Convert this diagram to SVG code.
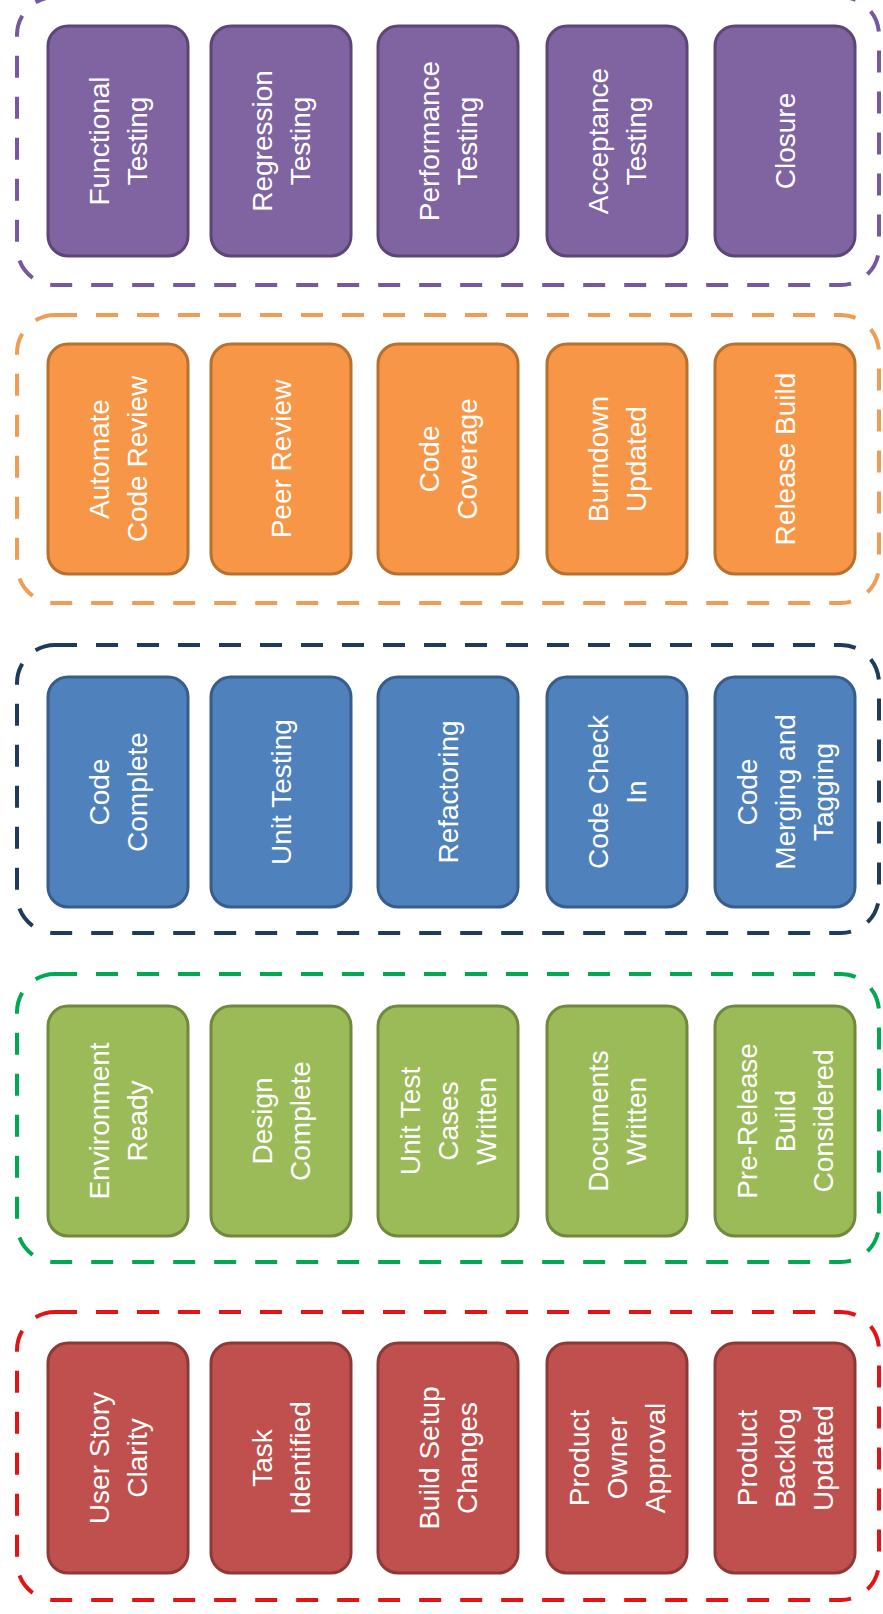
<svg xmlns="http://www.w3.org/2000/svg" width="883" height="1614" viewBox="0 0 883 1614">
<style>
.grp{fill:none;stroke-width:4;stroke-dasharray:22 19}
.box{stroke-width:3}
.lbl{font-family:"Liberation Sans",Arial,sans-serif;font-size:28px;fill:#ffffff;text-anchor:middle}
.p .box{fill:#8064A2;stroke:#5C4678}
.o .box{fill:#F79646;stroke:#B8702F}
.b .box{fill:#4F81BD;stroke:#385D8A}
.g .box{fill:#9BBB59;stroke:#71893F}
.r .box{fill:#C0504D;stroke:#8C3A38}
</style>
<rect width="883" height="1614" fill="#ffffff"/>
<g id="groups">
<rect id="grp-purple" class="grp" x="17" y="-3" width="862" height="288" rx="38" stroke="#7558A0"/>
<rect id="grp-orange" class="grp" x="17" y="315" width="862" height="288" rx="38" stroke="#F09C55"/>
<rect id="grp-blue" class="grp" x="17" y="645" width="862" height="288" rx="38" stroke="#1F3B5C"/>
<rect id="grp-green" class="grp" x="17" y="974" width="862" height="288" rx="38" stroke="#00A84F"/>
<rect id="grp-red" class="grp" x="17" y="1312" width="862" height="288" rx="38" stroke="#E01414"/>
</g>
<g id="connectors"></g>

<g class="p">
<g id="functional-testing"><rect class="box" x="48" y="26" width="140" height="230" rx="20"/><text class="lbl" transform="translate(118,141) rotate(-90)"><tspan x="0" y="-9">Functional</tspan><tspan x="0" y="29">Testing</tspan></text></g>
<g id="regression-testing"><rect class="box" x="211" y="26" width="140" height="230" rx="20"/><text class="lbl" transform="translate(281,141) rotate(-90)"><tspan x="0" y="-9">Regression</tspan><tspan x="0" y="29">Testing</tspan></text></g>
<g id="performance-testing"><rect class="box" x="378" y="26" width="140" height="230" rx="20"/><text class="lbl" transform="translate(448,141) rotate(-90)"><tspan x="0" y="-9">Performance</tspan><tspan x="0" y="29">Testing</tspan></text></g>
<g id="acceptance-testing"><rect class="box" x="547" y="26" width="140" height="230" rx="20"/><text class="lbl" transform="translate(617,141) rotate(-90)"><tspan x="0" y="-9">Acceptance</tspan><tspan x="0" y="29">Testing</tspan></text></g>
<g id="closure"><rect class="box" x="715" y="26" width="140" height="230" rx="20"/><text class="lbl" transform="translate(785,141) rotate(-90)"><tspan x="0" y="10">Closure</tspan></text></g>
</g>

<g class="o">
<g id="automate-code-review"><rect class="box" x="48" y="344" width="140" height="230" rx="20"/><text class="lbl" transform="translate(118,459) rotate(-90)"><tspan x="0" y="-9">Automate</tspan><tspan x="0" y="29">Code Review</tspan></text></g>
<g id="peer-review"><rect class="box" x="211" y="344" width="140" height="230" rx="20"/><text class="lbl" transform="translate(281,459) rotate(-90)"><tspan x="0" y="10">Peer Review</tspan></text></g>
<g id="code-coverage"><rect class="box" x="378" y="344" width="140" height="230" rx="20"/><text class="lbl" transform="translate(448,459) rotate(-90)"><tspan x="0" y="-9">Code</tspan><tspan x="0" y="29">Coverage</tspan></text></g>
<g id="burndown-updated"><rect class="box" x="547" y="344" width="140" height="230" rx="20"/><text class="lbl" transform="translate(617,459) rotate(-90)"><tspan x="0" y="-9">Burndown</tspan><tspan x="0" y="29">Updated</tspan></text></g>
<g id="release-build"><rect class="box" x="715" y="344" width="140" height="230" rx="20"/><text class="lbl" transform="translate(785,459) rotate(-90)"><tspan x="0" y="10">Release Build</tspan></text></g>
</g>

<g class="b">
<g id="code-complete"><rect class="box" x="48" y="677" width="140" height="230" rx="20"/><text class="lbl" transform="translate(118,792) rotate(-90)"><tspan x="0" y="-9">Code</tspan><tspan x="0" y="29">Complete</tspan></text></g>
<g id="unit-testing"><rect class="box" x="211" y="677" width="140" height="230" rx="20"/><text class="lbl" transform="translate(281,792) rotate(-90)"><tspan x="0" y="10">Unit Testing</tspan></text></g>
<g id="refactoring"><rect class="box" x="378" y="677" width="140" height="230" rx="20"/><text class="lbl" transform="translate(448,792) rotate(-90)"><tspan x="0" y="10">Refactoring</tspan></text></g>
<g id="code-check-in"><rect class="box" x="547" y="677" width="140" height="230" rx="20"/><text class="lbl" transform="translate(617,792) rotate(-90)"><tspan x="0" y="-9">Code Check</tspan><tspan x="0" y="29">In</tspan></text></g>
<g id="code-merging-tagging"><rect class="box" x="715" y="677" width="140" height="230" rx="20"/><text class="lbl" transform="translate(785,792) rotate(-90)"><tspan x="0" y="-28">Code</tspan><tspan x="0" y="10">Merging and</tspan><tspan x="0" y="48">Tagging</tspan></text></g>
</g>

<g class="g">
<g id="environment-ready"><rect class="box" x="48" y="1006" width="140" height="230" rx="20"/><text class="lbl" transform="translate(118,1121) rotate(-90)"><tspan x="0" y="-9">Environment</tspan><tspan x="0" y="29">Ready</tspan></text></g>
<g id="design-complete"><rect class="box" x="211" y="1006" width="140" height="230" rx="20"/><text class="lbl" transform="translate(281,1121) rotate(-90)"><tspan x="0" y="-9">Design</tspan><tspan x="0" y="29">Complete</tspan></text></g>
<g id="unit-test-cases-written"><rect class="box" x="378" y="1006" width="140" height="230" rx="20"/><text class="lbl" transform="translate(448,1121) rotate(-90)"><tspan x="0" y="-28">Unit Test</tspan><tspan x="0" y="10">Cases</tspan><tspan x="0" y="48">Written</tspan></text></g>
<g id="documents-written"><rect class="box" x="547" y="1006" width="140" height="230" rx="20"/><text class="lbl" transform="translate(617,1121) rotate(-90)"><tspan x="0" y="-9">Documents</tspan><tspan x="0" y="29">Written</tspan></text></g>
<g id="pre-release-build"><rect class="box" x="715" y="1006" width="140" height="230" rx="20"/><text class="lbl" transform="translate(785,1121) rotate(-90)"><tspan x="0" y="-28">Pre-Release</tspan><tspan x="0" y="10">Build</tspan><tspan x="0" y="48">Considered</tspan></text></g>
</g>

<g class="r">
<g id="user-story-clarity"><rect class="box" x="48" y="1343" width="140" height="230" rx="20"/><text class="lbl" transform="translate(118,1458) rotate(-90)"><tspan x="0" y="-9">User Story</tspan><tspan x="0" y="29">Clarity</tspan></text></g>
<g id="task-identified"><rect class="box" x="211" y="1343" width="140" height="230" rx="20"/><text class="lbl" transform="translate(281,1458) rotate(-90)"><tspan x="0" y="-9">Task</tspan><tspan x="0" y="29">Identified</tspan></text></g>
<g id="build-setup-changes"><rect class="box" x="378" y="1343" width="140" height="230" rx="20"/><text class="lbl" transform="translate(448,1458) rotate(-90)"><tspan x="0" y="-9">Build Setup</tspan><tspan x="0" y="29">Changes</tspan></text></g>
<g id="product-owner-approval"><rect class="box" x="547" y="1343" width="140" height="230" rx="20"/><text class="lbl" transform="translate(617,1458) rotate(-90)"><tspan x="0" y="-28">Product</tspan><tspan x="0" y="10">Owner</tspan><tspan x="0" y="48">Approval</tspan></text></g>
<g id="product-backlog-updated"><rect class="box" x="715" y="1343" width="140" height="230" rx="20"/><text class="lbl" transform="translate(785,1458) rotate(-90)"><tspan x="0" y="-28">Product</tspan><tspan x="0" y="10">Backlog</tspan><tspan x="0" y="48">Updated</tspan></text></g>
</g>
</svg>
